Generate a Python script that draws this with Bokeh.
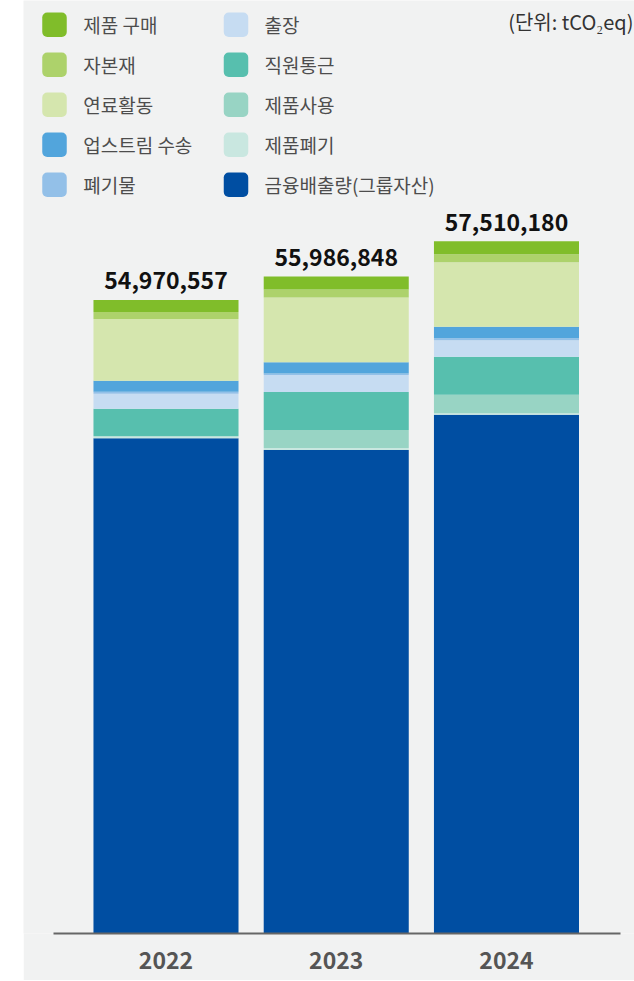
import numpy as np
from bokeh.plotting import figure
from bokeh.models import Range1d, FixedTicker, Spacer
from bokeh.layouts import row
from bokeh.core.properties import value
from bokeh.embed import file_html
from bokeh.resources import INLINE

# ---------------- data (tCO2eq) ----------------
years = ["2022", "2023", "2024"]
totals = [54970557, 55986848, 57510180]

categories = ["제품 구매", "자본재", "연료활동", "업스트림 수송", "폐기물",
              "출장", "직원통근", "제품사용", "제품폐기", "금융배출량(그룹자산)"]
purchased = [517000, 560000, 561000]
capital = [301000, 344000, 345000]
fuel = [2669000, 2798000, 2794000]
upstream = [473000, 486000, 488000]
waste = [86000, 73000, 86000]
travel = [646000, 732000, 721000]
commute = [1192000, 1636000, 1641000]
use_sold = [0, 775000, 790000]
end_of_life = [86000, 86000, 73000]
financed = [49000557, 48496848, 50011180]

colors = ["#80bd2a", "#add26b", "#d5e6ae", "#52a5dc", "#93c0e8",
          "#c6dcf2", "#57bfae", "#98d4c4", "#c9e7e0", "#004ea2"]

unit_label = "(단위: tCO₂eq)"

# ---------------- styling ----------------
FONT = "Noto Sans CJK KR"
BG = "#f1f2f2"
W, H = 611, 980
FRAME_H = 933
Y0 = 27615000
PER_PX = 43180
Y1 = Y0 + FRAME_H * PER_PX

p = figure(width=W, height=H,
           x_range=Range1d(-0.837, 2.752), y_range=Range1d(Y0, Y1),
           output_backend="svg", toolbar_location=None, y_axis_location=None,
           min_border_left=0, min_border_right=0, min_border_top=0,
           min_border_bottom=H - FRAME_H,
           background_fill_color=BG, border_fill_color=BG, outline_line_color=None)
p.grid.visible = False
p.extra_x_ranges = {"px": Range1d(0, W)}
p.extra_y_ranges = {"px": Range1d(FRAME_H, 0)}

xs = list(range(len(years)))
data = {"x": xs}
stack_names = ["financed", "eol", "use", "commute", "travel", "waste",
               "upstream", "fuel", "capital", "purchased"]
stack_vals = [financed, end_of_life, use_sold, commute, travel, waste,
              upstream, fuel, capital, purchased]
stack_cols = [colors[9], colors[8], colors[7], colors[6], colors[5], colors[4],
              colors[3], colors[2], colors[1], colors[0]]
for n, v in zip(stack_names, stack_vals):
    data[n] = v
p.vbar_stack(stack_names, x="x", width=0.852, color=stack_cols,
             line_color=None, source=data)

# total labels
p.text(x=xs, y=totals, text=[f"{v:,}" for v in totals],
       text_align="center", text_baseline="alphabetic", y_offset=-19,
       text_font=value(FONT), text_font_style="bold", text_font_size="23px",
       text_color="#111111")

# x axis
ax = p.xaxis[0]
ax.ticker = FixedTicker(ticks=xs)
ax.major_label_overrides = {i: y for i, y in zip(xs, years)}
ax.major_tick_line_color = None
ax.minor_tick_line_color = None
ax.axis_line_color = "#666666"
ax.axis_line_width = 2
ax.bounds = (-0.661, 2.670)
ax.major_label_standoff = 12
ax.major_label_text_font = FONT
ax.major_label_text_font_style = "bold"
ax.major_label_text_font_size = "23px"
ax.major_label_text_color = "#555555"

# legend (manual, two columns)
col_x = [31, 212.5]
txt_x = [59.7, 241]
row_y0, row_dy, half = 24.3, 40, 12.25
lx, ly, tx = [], [], []
for i, c in enumerate(categories):
    col, r = divmod(i, 5)
    lx.append(col_x[col]); ly.append(row_y0 + r * row_dy); tx.append(txt_x[col])
lx = np.array(lx); ly = np.array(ly)
p.quad(left=lx - half, right=lx + half, top=ly - half, bottom=ly + half,
       color=colors, line_color=None, border_radius=5,
       x_range_name="px", y_range_name="px")
p.text(x=tx, y=list(ly), text=categories, text_baseline="middle",
       text_font=value(FONT), text_font_size="19px", text_color="#4d4d4d",
       x_range_name="px", y_range_name="px")

# unit label
p.text(x=[W - 1], y=[21], text=[unit_label], text_align="right",
       text_baseline="middle", text_font=value(FONT), text_font_size="20px",
       text_color="#333333", x_range_name="px", y_range_name="px")

layout = row(Spacer(width=23, height=H), p)
open("out.html", "w").write(file_html(layout, INLINE))
